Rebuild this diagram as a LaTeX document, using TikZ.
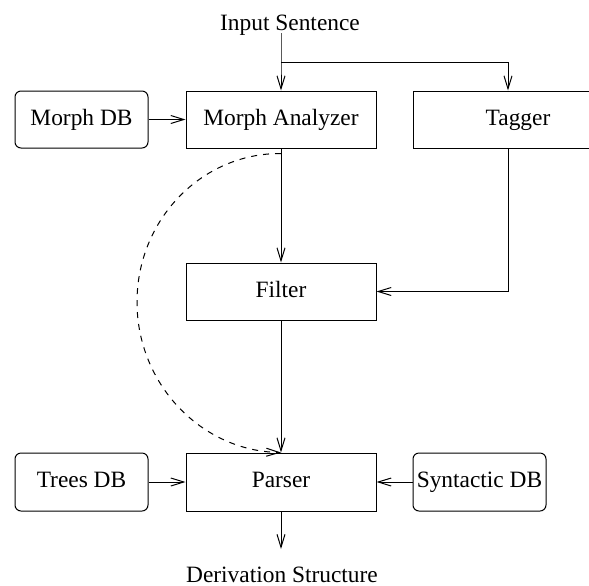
\documentclass[tikz,border=0pt]{standalone}
\usepackage{fontspec}
\setmainfont{Liberation Serif}
\usepackage{tikz}
\usetikzlibrary{calc,arrows.meta}

\tikzset{
	box/.style={draw,line width=0.5pt,inner sep=0pt,minimum width=95pt,minimum height=28.5pt,text height=8pt,text depth=2.5pt},
	dbbox/.style={box,rounded corners=3pt,minimum width=66.5pt},
	flow/.style={line width=0.5pt,-{Straight Barb[length=6.5pt,width=4pt,line width=0.5pt]}}
}

\begin{document}
\begin{tikzpicture}[x=0.5pt,y=-0.5pt,font=\fontsize{11.7}{14}\selectfont]
		\useasboundingbox (0,0) rectangle (589,585);
		
		\node[anchor=base] (in) at (290,30) {Input Sentence};
		\node[anchor=base] (out) at (282,582) {Derivation Structure};
		\coordinate (top) at (281,33);
		\coordinate (split) at (281,62);
		\coordinate (bot) at (281,549);
		
		\node[dbbox] (morphdb) at (81.5,119.5) {Morph DB};
		\node[box] (morph) at (281,119.5) {Morph Analyzer};
		\node[box,minimum width=105pt] (tagger) at (518,119.5) {Tagger};
		\node[box] (filter) at (281,291.5) {Filter};
		\node[dbbox,minimum height=29pt] (treesdb) at (81.5,482) {Trees DB};
		\node[box,minimum height=29pt] (parser) at (281,482) {Parser};
		\node[dbbox,minimum height=29pt] (syndb) at (479.5,482) {Syntactic DB};
		
		\draw[flow] (top) -- (split) -- (morph.north);
		\draw[flow] (split) -| ([xshift=-5pt]tagger.north);
		\draw[flow] (morphdb) -- (morph);
		\draw[flow] (morph) -- (filter);
		\draw[flow] ([xshift=-5pt]tagger.south) |- (filter.east);
		\draw[flow] (filter) -- (parser);
		\draw[flow] (treesdb) -- (parser);
		\draw[flow] (syndb) -- (parser);
		\draw[flow] (parser) -- (bot);
		\draw[flow,dashed] ([yshift=-2.5pt]morph.south) .. controls (201.5,153) and (137,219.7) .. (137,302) .. controls (137,384.3) and (201.5,451) .. (parser.north);
	\end{tikzpicture}
\end{document}
